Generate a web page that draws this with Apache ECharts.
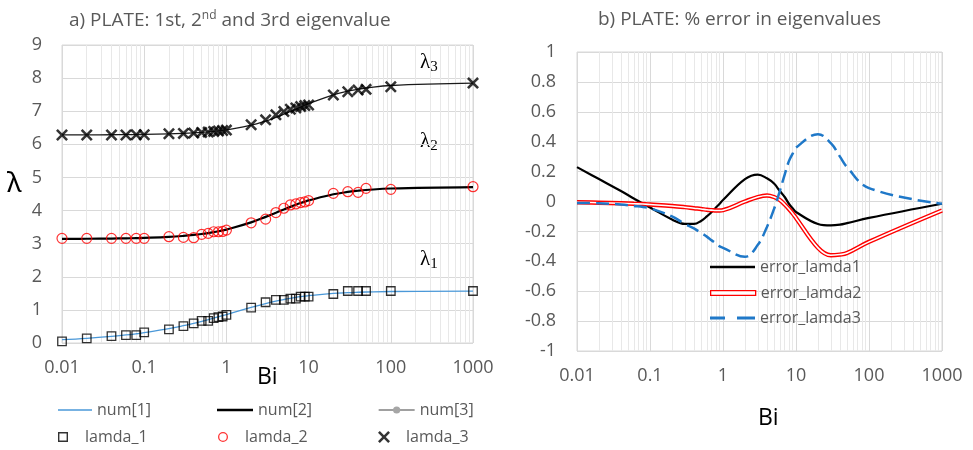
<!DOCTYPE html>
<html><head><meta charset="utf-8">
<script src="https://cdn.jsdelivr.net/npm/echarts@6/dist/echarts.min.js"></script>
<style>html,body{margin:0;padding:0;background:#fff}#c{width:973px;height:450px}</style>
</head><body><div id="c"></div>
<script>
// ---- data ----
const bi = [0.01,0.02,0.04,0.06,0.08,0.1,0.2,0.3,0.4,0.5,0.6,0.7,0.8,0.9,1,2,3,4,5,6,7,8,9,10,20,30,40,50,100,1000];
const num1 = [0.0998,0.1410,0.1987,0.2425,0.2791,0.3111,0.4328,0.5218,0.5932,0.6533,0.7051,0.7506,0.7910,0.8274,0.8603,1.0769,1.1925,1.2646,1.3138,1.3496,1.3766,1.3978,1.4149,1.4289,1.4961,1.5202,1.5325,1.5400,1.5552,1.5692];
const num2 = [3.1448,3.1479,3.1543,3.1606,3.1668,3.1731,3.2039,3.2341,3.2636,3.2923,3.3204,3.3477,3.3744,3.4003,3.4256,3.6436,3.8088,3.9352,4.0336,4.1116,4.1746,4.2264,4.2694,4.3058,4.4915,4.5615,4.5979,4.6202,4.6658,4.7077];
const num3 = [6.2848,6.2864,6.2895,6.2927,6.2959,6.2991,6.3148,6.3305,6.3461,6.3616,6.3770,6.3923,6.4074,6.4224,6.4373,6.5783,6.7040,6.8140,6.9096,6.9924,7.0640,7.1263,7.1806,7.2281,7.4954,7.6057,7.6647,7.7012,7.7764,7.8462];
const lamda1 = [0.05,0.14,0.21,0.24,0.24,0.32,0.41,0.51,0.59,0.67,0.67,0.75,0.78,0.80,0.85,1.07,1.23,1.30,1.30,1.34,1.34,1.40,1.40,1.40,1.48,1.57,1.57,1.57,1.57,1.57];
const lamda2 = [3.16,3.16,3.16,3.16,3.16,3.16,3.21,3.19,3.18,3.28,3.31,3.36,3.36,3.37,3.41,3.63,3.74,3.94,4.07,4.17,4.20,4.24,4.26,4.30,4.52,4.57,4.55,4.67,4.64,4.72];
const lamda3 = [6.28,6.28,6.28,6.28,6.29,6.29,6.32,6.33,6.34,6.36,6.37,6.39,6.40,6.42,6.43,6.59,6.74,6.89,6.99,7.06,7.10,7.14,7.17,7.19,7.49,7.59,7.64,7.66,7.74,7.85];
const err1 = [0.23,0.15,0.07,0.02,-0.015,-0.04,-0.12,-0.15,-0.15,-0.13,-0.10,-0.07,-0.04,-0.015,0.01,0.15,0.18,0.155,0.12,0.07,0.03,-0.015,-0.045,-0.07,-0.15,-0.16,-0.155,-0.145,-0.11,-0.015];
const err2 = [-0.005,-0.008,-0.012,-0.015,-0.017,-0.02,-0.03,-0.038,-0.045,-0.05,-0.055,-0.058,-0.06,-0.06,-0.058,0.0,0.03,0.04,0.03,0.01,-0.02,-0.05,-0.08,-0.11,-0.31,-0.36,-0.355,-0.345,-0.27,-0.06];
const err3 = [-0.01,-0.012,-0.02,-0.03,-0.037,-0.045,-0.10,-0.15,-0.18,-0.21,-0.235,-0.26,-0.28,-0.30,-0.31,-0.37,-0.29,-0.17,-0.05,0.07,0.18,0.27,0.32,0.36,0.45,0.39,0.30,0.23,0.09,-0.015];
const yTicksLeft = {min:0, max:9, interval:1};
const yTicksRight = {min:-1, max:1, interval:0.2};

// ---- styling ----
const FONT = 'Open Sans';
const GRAY = '#595959';
const GRID = '#d9d9d9';
const MINOR = '#e8e8e8';
const BLUE1 = '#4a98d8';
const BLUE3 = '#1f78c8';
const RED = '#ff0000';
const XPATH = 'path://M0,1.5L1.5,0L5,3.5L8.5,0L10,1.5L6.5,5L10,8.5L8.5,10L5,6.5L1.5,10L0,8.5L3.5,5Z';
const SQPATH = 'path://M0,0h10v10h-10z M1.4,1.4v7.2h7.2v-7.2z';
const CIRPATH = 'path://M5,0A5,5 0 1,1 5,10A5,5 0 1,1 5,0z M5,1.3A3.7,3.7 0 1,0 5,8.7A3.7,3.7 0 1,0 5,1.3z';
const DASHPATH = 'path://M0,0h15v3h-15z M27,0h18v3h-18z';

function pairs(ys){ return bi.map((b,i)=>[b, ys[i]]); }
function minorLines(){
  const out=[];
  for(let e=-2;e<3;e++){ for(let k=2;k<=9;k++){ out.push({xAxis: +(k*Math.pow(10,e)).toPrecision(6)}); } }
  return out;
}
const minorMark = {silent:true, z:1, symbol:'none', label:{show:false}, animation:false,
  lineStyle:{color:MINOR, width:1, type:'solid'}, emphasis:{disabled:true}, data:minorLines()};

const axisLabel = {color:GRAY, fontSize:18, fontFamily:FONT};
function leg(name, left, cy, w, h, extra){
  return Object.assign({
    orient:'horizontal', left:left, top:cy-10, padding:0, itemGap:0, selectedMode:false,
    itemWidth:w, itemHeight:h,
    textStyle:{color:GRAY, fontSize:16, fontFamily:FONT, lineHeight:20},
    data:[name]
  }, extra||{});
}

const chart = echarts.init(document.getElementById('c'));
chart.setOption({
  animation:false,
  backgroundColor:'#fff',
  title:[
    {text:'a) PLATE: 1st, 2{sup|nd} and 3rd eigenvalue', left:64, top:5,
     textStyle:{color:GRAY, fontSize:19, fontWeight:'normal', fontFamily:FONT,
       rich:{sup:{fontSize:12, color:GRAY, fontFamily:FONT, padding:[0,0,9,0]}}}},
    {text:'b) PLATE: % error in eigenvalues', left:593, top:5,
     textStyle:{color:GRAY, fontSize:19, fontWeight:'normal', fontFamily:FONT}}
  ],
  grid:[
    {left:62, top:45, width:411, height:298, show:true, borderColor:GRID, borderWidth:1},
    {left:577, top:52, width:365, height:299, show:true, borderColor:GRID, borderWidth:1}
  ],
  xAxis:[
    {type:'log', logBase:10, min:0.01, max:1000, gridIndex:0,
     axisLine:{show:false}, axisTick:{show:false},
     axisLabel:Object.assign({margin:16, formatter:v=>String(+(+v).toPrecision(6))}, axisLabel),
     splitLine:{show:true, lineStyle:{color:GRID}}},
    {type:'log', logBase:10, min:0.01, max:1000, gridIndex:1,
     axisLine:{show:false}, axisTick:{show:false},
     axisLabel:Object.assign({margin:16, formatter:v=>String(+(+v).toPrecision(6))}, axisLabel),
     splitLine:{show:true, lineStyle:{color:GRID}}}
  ],
  yAxis:[
    Object.assign({type:'value', gridIndex:0,
     axisLine:{show:false}, axisTick:{show:false},
     axisLabel:Object.assign({margin:20}, axisLabel),
     splitLine:{show:true, lineStyle:{color:GRID}}}, yTicksLeft),
    Object.assign({type:'value', gridIndex:1,
     axisLine:{show:false}, axisTick:{show:false},
     axisLabel:Object.assign({margin:21, formatter:v=>String(+(+v).toFixed(1))}, axisLabel),
     splitLine:{show:true, lineStyle:{color:GRID}}}, yTicksRight)
  ],
  legend:[
    leg({name:'num[1]', icon:'rect'}, 58, 410, 34, 1.5),
    leg({name:'num[2]', icon:'rect'}, 217, 410, 36, 2.6),
    leg({name:'num[3]', lineStyle:{color:'#808080', width:1.3}, itemStyle:{color:'#a6a6a6'}}, 378, 410, 36, 9),
    leg({name:'lamda_1', icon:SQPATH, itemStyle:{color:'#000', borderWidth:0}}, 58, 437, 34, 10),
    leg({name:'lamda_2', icon:CIRPATH, itemStyle:{color:RED, borderWidth:0}}, 218, 437, 34, 10),
    leg({name:'lamda_3', icon:XPATH, itemStyle:{color:'#000', borderWidth:0}}, 378, 437, 34, 12),
    leg({name:'error_lamda1', icon:'rect'}, 710, 267, 45, 2.6),
    leg({name:'error_lamda2', icon:'rect', itemStyle:{color:'#fff', borderColor:RED, borderWidth:1.3}}, 710, 293, 45, 4.6),
    leg({name:'error_lamda3', icon:DASHPATH, itemStyle:{color:BLUE3, borderWidth:0}}, 710, 318, 45, 3)
  ],
  series:[
    {name:'num[1]', type:'line', xAxisIndex:0, yAxisIndex:0, data:pairs(num1), smooth:0.4,
     symbol:'none', color:BLUE1, lineStyle:{color:BLUE1, width:1.3}, z:2, markLine:minorMark},
    {name:'num[2]', type:'line', xAxisIndex:0, yAxisIndex:0, data:pairs(num2), smooth:0.4,
     symbol:'none', color:'#000', lineStyle:{color:'#000', width:2.2}, z:2},
    {name:'num[3]', type:'line', xAxisIndex:0, yAxisIndex:0, data:pairs(num3), smooth:0.4,
     symbol:'circle', showSymbol:false, color:'#a6a6a6', itemStyle:{color:'#a6a6a6'},
     lineStyle:{color:'#1a1a1a', width:1.3}, z:2},
    {name:'lamda_1', type:'scatter', xAxisIndex:0, yAxisIndex:0, data:pairs(lamda1),
     symbol:'rect', symbolSize:8.5, color:'#000',
     itemStyle:{color:'rgba(0,0,0,0)', borderColor:'#000', borderWidth:1.3}, z:3},
    {name:'lamda_2', type:'scatter', xAxisIndex:0, yAxisIndex:0, data:pairs(lamda2),
     symbol:'circle', symbolSize:10, color:RED,
     itemStyle:{color:'rgba(0,0,0,0)', borderColor:RED, borderWidth:1.2}, z:3},
    {name:'lamda_3', type:'scatter', xAxisIndex:0, yAxisIndex:0, data:pairs(lamda3),
     symbol:XPATH, symbolSize:12, color:'#000', itemStyle:{color:'#000'}, z:3},

    {name:'error_lamda1', type:'line', xAxisIndex:1, yAxisIndex:1, data:pairs(err1), smooth:0.4,
     symbol:'none', color:'#000', lineStyle:{color:'#000', width:2.2}, z:2, markLine:minorMark},
    {name:'error_lamda2', type:'line', xAxisIndex:1, yAxisIndex:1, data:pairs(err2), smooth:0.4,
     symbol:'none', color:RED, lineStyle:{color:RED, width:4.4}, z:2},
    {name:'__e2inner', type:'line', xAxisIndex:1, yAxisIndex:1, data:pairs(err2), smooth:0.4,
     symbol:'none', color:'#fff', lineStyle:{color:'#fff', width:1.6}, z:2, silent:true},
    {name:'error_lamda3', type:'line', xAxisIndex:1, yAxisIndex:1, data:pairs(err3), smooth:0.4,
     symbol:'none', color:BLUE3, lineStyle:{color:BLUE3, width:2.5, type:[13,6]}, z:2}
  ],
  graphic:[
    {type:'text', x:7, y:184, style:{text:'λ', font:'28px "Noto Sans"', fill:'#000', align:'left', verticalAlign:'middle'}},
    {type:'text', x:257, y:377, style:{text:'Bi', font:'23px "Open Sans"', fill:'#000', align:'left', verticalAlign:'middle'}},
    {type:'text', x:758, y:418, style:{text:'Bi', font:'23px "Open Sans"', fill:'#000', align:'left', verticalAlign:'middle'}},
    {type:'text', x:420, y:62, style:{text:'λ{s|3}', font:'21px "Liberation Serif"', fill:'#000', align:'left', verticalAlign:'middle',
      rich:{s:{font:'15px "Liberation Serif"', fill:'#000', padding:[10,0,0,0]}}}},
    {type:'text', x:420, y:141, style:{text:'λ{s|2}', font:'21px "Liberation Serif"', fill:'#000', align:'left', verticalAlign:'middle',
      rich:{s:{font:'15px "Liberation Serif"', fill:'#000', padding:[10,0,0,0]}}}},
    {type:'text', x:420, y:259, style:{text:'λ{s|1}', font:'21px "Liberation Serif"', fill:'#000', align:'left', verticalAlign:'middle',
      rich:{s:{font:'15px "Liberation Serif"', fill:'#000', padding:[10,0,0,0]}}}}
  ]
});
</script></body></html>
